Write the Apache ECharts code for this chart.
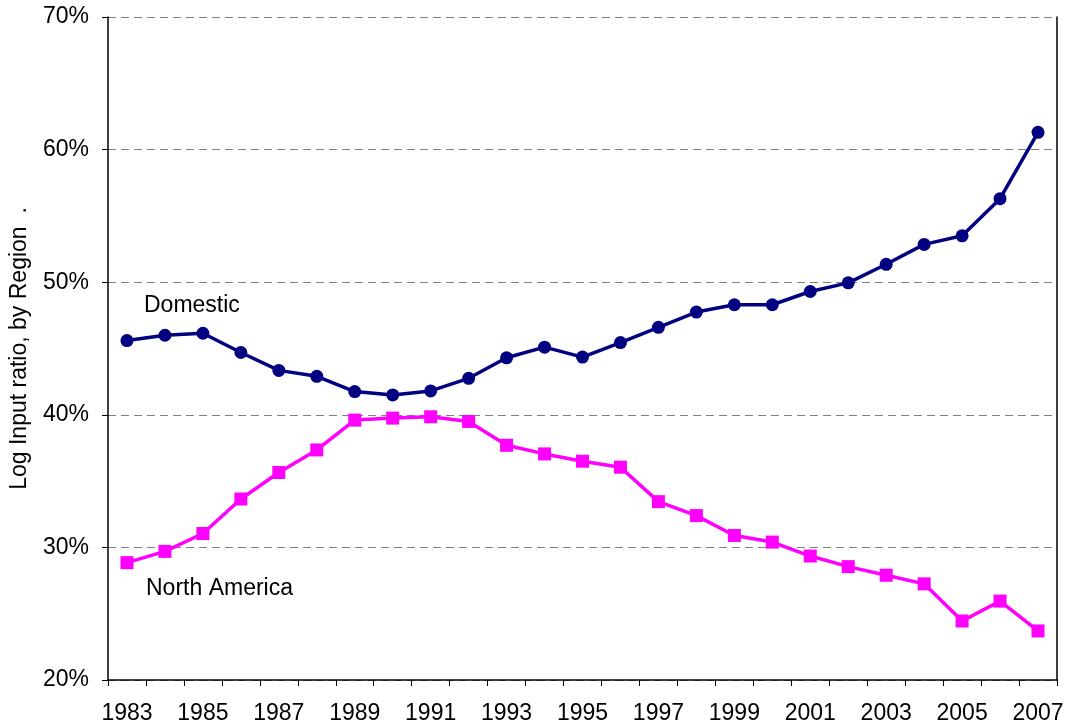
<!DOCTYPE html>
<html>
<head>
<meta charset="utf-8">
<title>Log Input ratio by Region</title>
<script src="https://cdn.jsdelivr.net/npm/echarts@6/dist/echarts.min.js"></script>
<style>
  html, body { margin: 0; padding: 0; background: #fff; }
  #chart { width: 1067px; height: 727px; }
</style>
</head>
<body>
<div id="chart"></div>
<script>
// chart data
const years = ['1983', '1984', '1985', '1986', '1987', '1988', '1989', '1990', '1991', '1992',
  '1993', '1994', '1995', '1996', '1997', '1998', '1999', '2000', '2001', '2002',
  '2003', '2004', '2005', '2006', '2007']
const domestic = [45.6, 46.0, 46.15, 44.7, 43.35, 42.9, 41.75, 41.5, 41.8, 42.75,
  44.3, 45.1, 44.35, 45.45, 46.6, 47.75, 48.3, 48.3, 49.3, 49.95,
  51.35, 52.85, 53.5, 56.3, 61.3]
const northAmerica = [28.85, 29.7, 31.05, 33.65, 35.65, 37.35, 39.6, 39.75, 39.85, 39.5,
  37.7, 37.05, 36.5, 36.05, 33.45, 32.4, 30.9, 30.4, 29.35, 28.55,
  27.9, 27.25, 24.45, 25.95, 23.7]
const yTicks = { min: 20, max: 70, step: 10 }

const font = 'Liberation Sans, Arial, sans-serif'
const chart = echarts.init(document.getElementById('chart'))

chart.setOption({
  animation: false,
  backgroundColor: '#fff',
  textStyle: { fontFamily: font },
  grid: { left: 107, right: 10, top: 17, bottom: 47, containLabel: false },
  xAxis: {
    type: 'category',
    data: years,
    boundaryGap: true,
    axisLine: { lineStyle: { color: '#000', width: 1.5 } },
    axisTick: { show: true, interval: 0, length: 6, lineStyle: { color: '#000' } },
    axisLabel: { interval: 1, fontSize: 23, color: '#000', margin: 22, fontFamily: font },
    splitLine: { show: false }
  },
  yAxis: [
    {
      type: 'value',
      min: yTicks.min,
      max: yTicks.max,
      interval: yTicks.step,
      name: 'Log Input ratio, by Region  .',
      nameLocation: 'middle',
      nameRotate: 90,
      nameGap: 77,
      nameTextStyle: { fontSize: 23, color: '#000', fontFamily: font },
      axisLine: { show: true, lineStyle: { color: '#000', width: 1.5 } },
      axisTick: { show: true, length: 6, lineStyle: { color: '#000' } },
      axisLabel: { formatter: '{value}%', fontSize: 23, color: '#000', margin: 19, fontFamily: font },
      splitLine: { show: true, lineStyle: { color: '#808080', type: [8, 5], width: 1 } }
    },
    {
      // right border of the plot box
      type: 'value',
      position: 'right',
      min: yTicks.min,
      max: yTicks.max,
      interval: yTicks.step,
      axisLine: { show: true, lineStyle: { color: '#000', width: 1.5 } },
      axisTick: { show: false },
      axisLabel: { show: false },
      splitLine: { show: false }
    }
  ],
  graphic: [
    {
      type: 'text',
      left: 144,
      top: 294,
      style: { text: 'Domestic', fill: '#000', font: '23px ' + font }
    },
    {
      type: 'text',
      left: 146,
      top: 577,
      style: { text: 'North America', fill: '#000', font: '23px ' + font }
    }
  ],
  series: [
    {
      name: 'Domestic',
      type: 'line',
      data: domestic,
      symbol: 'circle',
      symbolSize: 13,
      itemStyle: { color: '#000080' },
      lineStyle: { color: '#000080', width: 3.5 }
    },
    {
      name: 'North America',
      type: 'line',
      data: northAmerica,
      symbol: 'rect',
      symbolSize: 13,
      itemStyle: { color: '#FF00FF' },
      lineStyle: { color: '#FF00FF', width: 3.5 }
    }
  ]
})
</script>
</body>
</html>
